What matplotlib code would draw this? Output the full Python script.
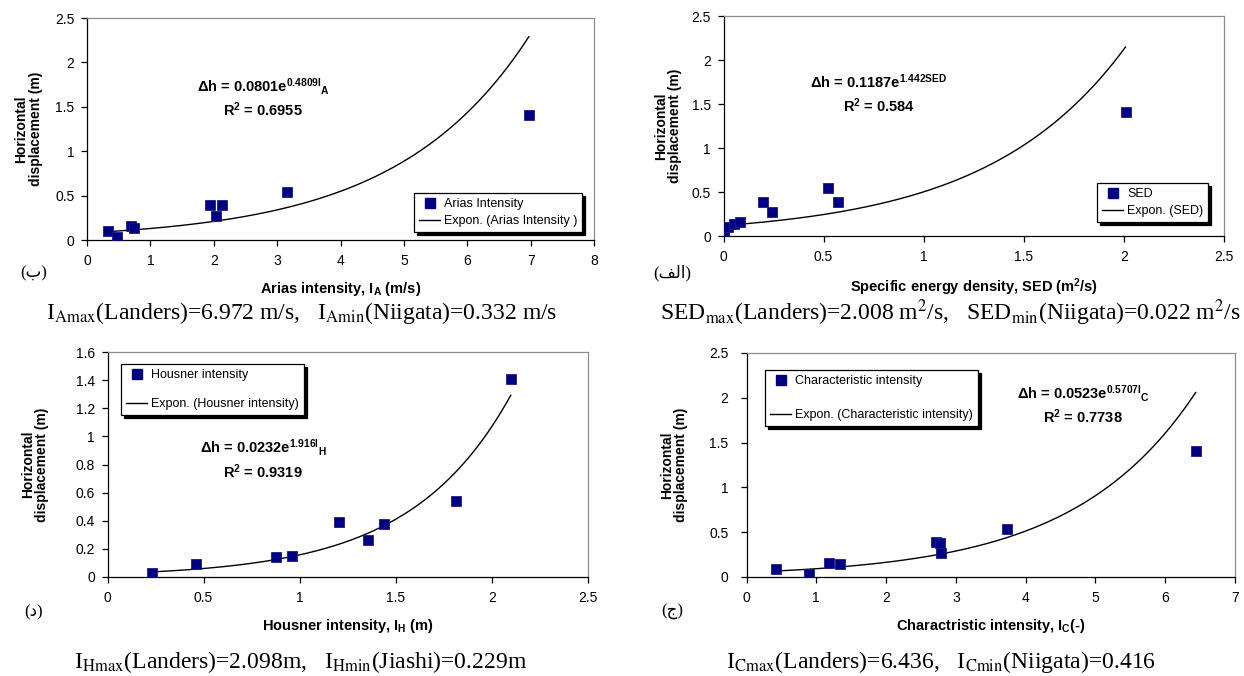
import numpy as np
import matplotlib
matplotlib.use("Agg")
import matplotlib.pyplot as plt
from matplotlib.lines import Line2D

# ---- data -------------------------------------------------------------
arias_x = [0.332, 0.478, 0.69, 0.74, 1.94, 2.03, 2.13, 3.16, 6.972]
arias_y = [0.10, 0.03, 0.16, 0.14, 0.39, 0.27, 0.39, 0.54, 1.41]
arias_fit = (0.0801, 0.4809, 0.6955)

sed_x = [0.003, 0.022, 0.054, 0.082, 0.196, 0.244, 0.52, 0.57, 2.008]
sed_y = [0.03, 0.10, 0.14, 0.16, 0.39, 0.27, 0.54, 0.39, 1.41]
sed_fit = (0.1187, 1.442, 0.584)

housner_x = [0.229, 0.458, 0.876, 0.96, 1.203, 1.355, 1.437, 1.813, 2.098]
housner_y = [0.03, 0.09, 0.14, 0.15, 0.39, 0.26, 0.38, 0.54, 1.41]
housner_fit = (0.0232, 1.916, 0.9319)

char_x = [0.416, 0.89, 1.18, 1.34, 2.72, 2.77, 2.79, 3.73, 6.436]
char_y = [0.09, 0.03, 0.16, 0.14, 0.39, 0.38, 0.27, 0.54, 1.41]
char_fit = (0.0523, 0.5707, 0.7738)

# ---- style ------------------------------------------------------------
plt.rcParams["font.family"] = ["Liberation Sans", "DejaVu Sans"]
plt.rcParams["mathtext.fontset"] = "custom"
plt.rcParams["mathtext.rm"] = "Liberation Sans"
plt.rcParams["mathtext.it"] = "Liberation Sans:italic"
plt.rcParams["mathtext.bf"] = "Liberation Sans:bold"

W, H = 1244, 676
fig = plt.figure(figsize=(W / 100, H / 100), dpi=100)
fig.patch.set_facecolor("white")

MARK = "#000080"
SERIF = ["Liberation Serif", "DejaVu Sans"]


def px(x, y):
    return x / W, 1 - y / H


def make_axes(left, right, top, bottom, ypad=5):
    ax = fig.add_axes([left / W, 1 - bottom / H, (right - left) / W, (bottom - top) / H])
    for s in ("top", "right"):
        ax.spines[s].set_color("#8c8c8c")
        ax.spines[s].set_linewidth(0.9)
    for s in ("left", "bottom"):
        ax.spines[s].set_color("black")
        ax.spines[s].set_linewidth(0.9)
    ax.tick_params(direction="out", length=4, width=0.9, labelsize=10, colors="black")
    ax.tick_params(axis="x", pad=6)
    ax.tick_params(axis="y", pad=ypad)
    ax.set_facecolor("white")
    return ax


def panel(ax, xs, ys, fit, xmax, xstep, ymax, ystep, xlabel, ylabelpad):
    a, b, _ = fit
    ax.plot(xs, ys, linestyle="none", marker="s", ms=7.5, mfc=MARK,
            mec="#1a1a8c", mew=0.6, zorder=3)
    xx = np.linspace(min(xs), max(xs), 300)
    ax.plot(xx, a * np.exp(b * xx), color="black", lw=1.0, zorder=2)
    ax.set_xlim(0, xmax)
    ax.set_ylim(0, ymax)
    ax.set_xticks(np.round(np.arange(0, xmax + xstep / 2, xstep), 3))
    ax.set_yticks(np.round(np.arange(0, ymax + ystep / 2, ystep), 3))
    ax.xaxis.set_major_formatter(plt.FuncFormatter(lambda v, p: f"{v:g}"))
    ax.yaxis.set_major_formatter(plt.FuncFormatter(lambda v, p: f"{v:g}"))
    ax.set_xlabel(xlabel, fontsize=10.5, fontweight="bold", labelpad=9)
    ax.set_ylabel("Horizontal\ndisplacement (m)", fontsize=10, fontweight="bold",
                  linespacing=1.0, labelpad=ylabelpad)


def add_legend(ax, labels, x, y, spacing):
    handles = [
        Line2D([], [], linestyle="none", marker="s", ms=6.5, mfc=MARK, mec=MARK),
        Line2D([], [], color="black", lw=1.0),
    ]
    leg = ax.legend(handles, labels, loc="upper left",
                    bbox_to_anchor=px(x, y), bbox_transform=fig.transFigure,
                    fontsize=9, frameon=True, fancybox=False, edgecolor="black",
                    framealpha=1, borderpad=0.4, labelspacing=spacing,
                    handlelength=1.7, handletextpad=0.3, borderaxespad=0,
                    shadow={"facecolor": "black", "edgecolor": "black", "alpha": 1})
    leg.get_frame().set_linewidth(0.9)


def equation(x, y, a, b, r2, var, sub):
    exp = r"$^{\mathbf{" + f"{b:g}" + var + r"}}"
    if sub:
        exp += r"{}_{\mathbf{" + sub + r"}}"
    exp += "$"
    fig.text(*px(x, y), f"\u0394h = {a:g}e" + exp, ha="center", va="center",
             fontsize=10.5, fontweight="bold")
    fig.text(*px(x, y + 24), r"R$^{\mathbf{2}}$ = " + f"{r2:g}", ha="center",
             va="center", fontsize=10.5, fontweight="bold")


def caption(x, y, s):
    fig.text(*px(x, y), s, ha="center", va="center", fontsize=17,
             family=SERIF, math_fontfamily="stix")


def letter(x, y, s):
    fig.text(*px(x, y), s, fontsize=12, family=SERIF, ha="center", va="center")


# (ب) Arias intensity
ax1 = make_axes(87, 594, 18, 240)
panel(ax1, arias_x, arias_y, arias_fit, 8, 1, 2.5, 0.5,
      r"Arias intensity, I$_{\mathbf{A}}$ (m/s)", 9)
add_legend(ax1, ["Arias Intensity", "Expon. (Arias Intensity )"], 414, 193, 0.4)
equation(263, 86, *arias_fit, "I", "A")
letter(34, 273, "(\u0628)")

# (الف) Specific energy density
ax2 = make_axes(723.5, 1224, 16, 236)
panel(ax2, sed_x, sed_y, sed_fit, 2.5, 0.5, 2.5, 0.5,
      r"Specific energy density, SED (m$^{\mathbf{2}}$/s)", 7)
add_legend(ax2, ["SED", "Expon. (SED)"], 1097, 183, 0.4)
equation(879, 82, *sed_fit, "SED", "")
letter(672, 273, "(\uFED2\uFEDF\uFE8D)")

# (د) Housner intensity
ax3 = make_axes(107.5, 588, 352, 577)
panel(ax3, housner_x, housner_y, housner_fit, 2.5, 0.5, 1.6, 0.2,
      r"Housner intensity, I$_{\mathbf{H}}$ (m)", 19)
add_legend(ax3, ["Housner intensity", "Expon. (Housner intensity)"], 121, 364, 1.35)
equation(263, 448, *housner_fit, "I", "H")
letter(34, 612, "(\u062F)")

# (ج) Characteristic intensity
ax4 = make_axes(746.5, 1235, 353, 577, ypad=9)
panel(ax4, char_x, char_y, char_fit, 7, 1, 2.5, 0.5,
      r"Charactristic intensity, I$_{\mathbf{C}}$(-)", 15)
add_legend(ax4, ["Characteristic intensity", "Expon. (Characteristic intensity)"],
           765, 370, 1.75)
equation(1083, 393, *char_fit, "I", "C")
letter(672, 612, "(\u062C)")

# range captions under each panel
caption(302, 313, r"I$_{\mathrm{Amax}}$(Landers)=" + f"{max(arias_x):.3f}"
        + r" m/s,   I$_{\mathrm{Amin}}$(Niigata)=" + f"{min(arias_x):.3f}" + " m/s")
caption(950, 313, r"SED$_{\mathrm{max}}$(Landers)=" + f"{max(sed_x):.3f}"
        + r" m$^{2}$/s,   SED$_{\mathrm{min}}$(Niigata)=" + f"{sed_x[1]:.3f}" + r" m$^{2}$/s")
caption(301, 662, r"I$_{\mathrm{Hmax}}$(Landers)=" + f"{max(housner_x):.3f}"
        + r"m,   I$_{\mathrm{Hmin}}$(Jiashi)=" + f"{min(housner_x):.3f}" + "m")
caption(941, 662, r"I$_{\mathrm{Cmax}}$(Landers)=" + f"{max(char_x):.3f}"
        + r",   I$_{\mathrm{Cmin}}$(Niigata)=" + f"{min(char_x):.3f}")

fig.savefig("out.png", dpi=100, facecolor="white")
